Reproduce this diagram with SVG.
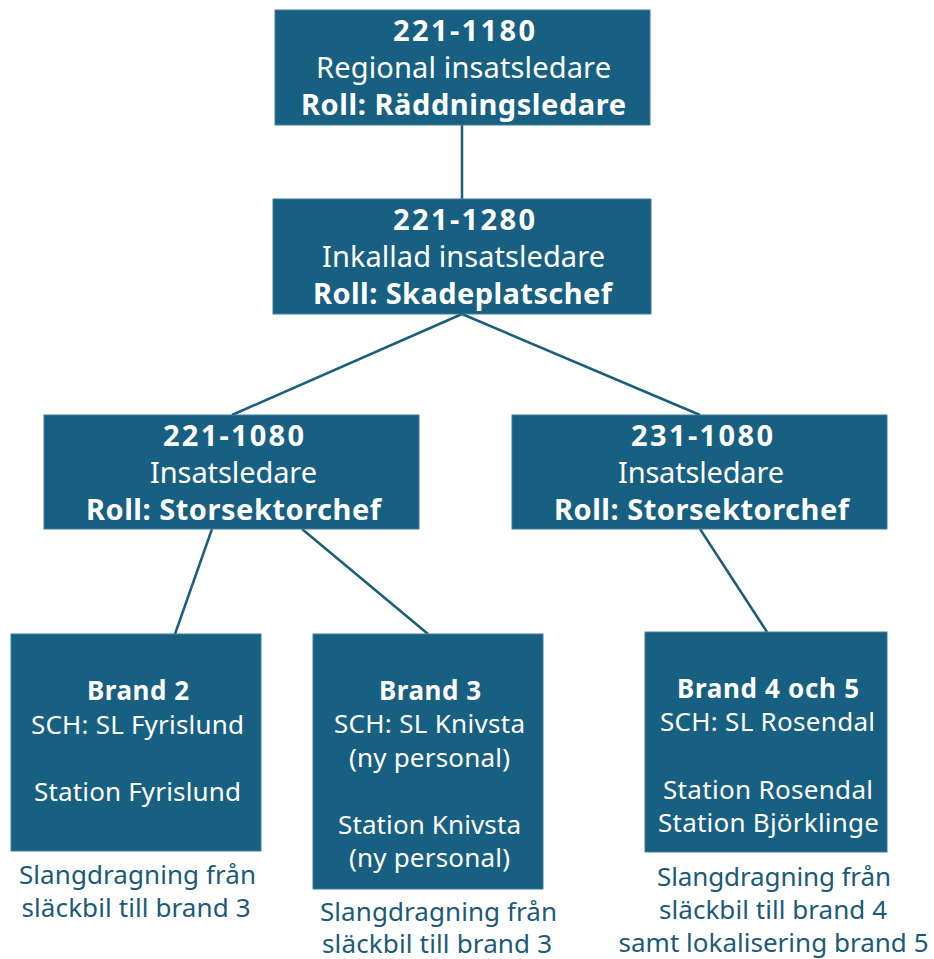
<svg xmlns="http://www.w3.org/2000/svg" width="934" height="959" viewBox="0 0 934 959">
<style>
.box{fill:#186082;stroke:#3f7f9c;stroke-width:1}
.t{font-family:"Noto Sans","Open Sans",sans-serif;fill:#ffffff;text-anchor:middle}
.b{font-weight:bold}
.h{font-size:29px}
.s{font-size:26px}
.n{font-family:"Noto Sans","Open Sans",sans-serif;fill:#1b5a78;text-anchor:middle;font-size:26px}
.c{stroke:#1a5e7e;stroke-width:2.5;fill:none}
</style>
<rect width="934" height="959" fill="#ffffff"/>
<g id="connectors">
<line class="c" x1="462" y1="125" x2="462" y2="199"/>
<line class="c" x1="462" y1="314" x2="232" y2="415"/>
<line class="c" x1="462" y1="314" x2="700" y2="415"/>
<line class="c" x1="212" y1="529" x2="175" y2="634"/>
<line class="c" x1="302" y1="529" x2="428" y2="634"/>
<line class="c" x1="700" y1="529" x2="767" y2="632"/>
</g>
<g id="n1">
<rect class="box" x="275" y="10" width="375" height="115"/>
<text class="t h b" x="464" y="41" textLength="142" lengthAdjust="spacing">221-1180</text>
<text class="t h" x="463.5" y="78" textLength="295" lengthAdjust="spacing">Regional insatsledare</text>
<text class="t h b" x="463.5" y="115" textLength="325" lengthAdjust="spacing">Roll: Räddningsledare</text>
</g>
<g id="n2">
<rect class="box" x="273" y="199" width="378" height="115"/>
<text class="t h b" x="464" y="230" textLength="142" lengthAdjust="spacing">221-1280</text>
<text class="t h" x="463.5" y="267" textLength="283" lengthAdjust="spacing">Inkallad insatsledare</text>
<text class="t h b" x="462.5" y="304" textLength="299" lengthAdjust="spacing">Roll: Skadeplatschef</text>
</g>
<g id="n3">
<rect class="box" x="44" y="415" width="375" height="114"/>
<text class="t h b" x="233.5" y="446" textLength="141" lengthAdjust="spacing">221-1080</text>
<text class="t h" x="233.5" y="483" textLength="167" lengthAdjust="spacing">Insatsledare</text>
<text class="t h b" x="233.5" y="520" textLength="295" lengthAdjust="spacing">Roll: Storsektorchef</text>
</g>
<g id="n4">
<rect class="box" x="512" y="415" width="375" height="114"/>
<text class="t h b" x="702" y="446" textLength="142" lengthAdjust="spacing">231-1080</text>
<text class="t h" x="701" y="483" textLength="166" lengthAdjust="spacing">Insatsledare</text>
<text class="t h b" x="701.5" y="520" textLength="295" lengthAdjust="spacing">Roll: Storsektorchef</text>
</g>
<g id="n5">
<rect class="box" x="11" y="634" width="250" height="217"/>
<text class="t s b" x="138" y="700" textLength="102" lengthAdjust="spacing">Brand 2</text>
<text class="t s" x="137.5" y="734" textLength="213" lengthAdjust="spacing">SCH: SL Fyrislund</text>
<text class="t s" x="137.5" y="801" textLength="207" lengthAdjust="spacing">Station Fyrislund</text>
<text class="n" x="137.5" y="884" textLength="237" lengthAdjust="spacing">Slangdragning från</text>
<text class="n" x="136" y="917" textLength="229" lengthAdjust="spacing">släckbil till brand 3</text>
</g>
<g id="n6">
<rect class="box" x="313" y="634" width="230" height="255"/>
<text class="t s b" x="430" y="700" textLength="102" lengthAdjust="spacing">Brand 3</text>
<text class="t s" x="429.5" y="733" textLength="191" lengthAdjust="spacing">SCH: SL Knivsta</text>
<text class="t s" x="429.5" y="767" textLength="161" lengthAdjust="spacing">(ny personal)</text>
<text class="t s" x="429.5" y="834" textLength="183" lengthAdjust="spacing">Station Knivsta</text>
<text class="t s" x="429.5" y="867" textLength="161" lengthAdjust="spacing">(ny personal)</text>
<text class="n" x="438.5" y="921" textLength="237" lengthAdjust="spacing">Slangdragning från</text>
<text class="n" x="437" y="953" textLength="230" lengthAdjust="spacing">släckbil till brand 3</text>
</g>
<g id="n7">
<rect class="box" x="645" y="632" width="242" height="220"/>
<text class="t s b" x="768" y="698" textLength="182" lengthAdjust="spacing">Brand 4 och 5</text>
<text class="t s" x="767.5" y="731" textLength="215" lengthAdjust="spacing">SCH: SL Rosendal</text>
<text class="t s" x="768" y="799" textLength="210" lengthAdjust="spacing">Station Rosendal</text>
<text class="t s" x="768.5" y="832" textLength="221" lengthAdjust="spacing">Station Björklinge</text>
<text class="n" x="774" y="886" textLength="234" lengthAdjust="spacing">Slangdragning från</text>
<text class="n" x="773" y="919" textLength="228" lengthAdjust="spacing">släckbil till brand 4</text>
<text class="n" x="773.5" y="952" textLength="310" lengthAdjust="spacing">samt lokalisering brand 5</text>
</g>
</svg>
